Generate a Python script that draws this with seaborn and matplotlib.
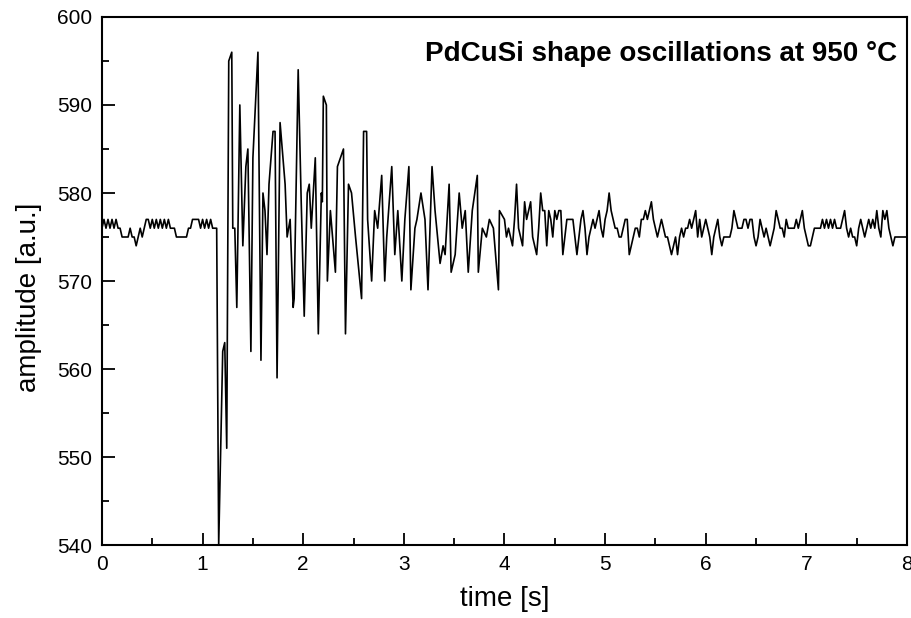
import numpy as np
import pandas as pd
import matplotlib
matplotlib.use("Agg")
import matplotlib.pyplot as plt
from matplotlib.ticker import MultipleLocator
import seaborn as sns

# amplitude before the drop, sampled every 0.02 s from t = 0
pre_amp = [576, 577, 576, 577, 576, 577, 576, 577, 576, 576,
           575, 575, 575, 575, 576, 575, 575, 574, 575, 576,
           575, 576, 577, 577, 576, 577, 576, 577, 576, 577,
           576, 577, 576, 577, 576, 576, 576, 575, 575, 575,
           575, 575, 575, 576, 576, 577, 577, 577, 577, 576,
           577, 576, 577, 576, 577, 576, 576, 576]

# oscillation part (time in s, amplitude in a.u.)
osc_time = [1.16, 1.20, 1.22, 1.24, 1.26, 1.29, 1.30, 1.32, 1.34, 1.37,
            1.40, 1.43, 1.45, 1.48, 1.50, 1.55, 1.58, 1.60, 1.62, 1.64,
            1.66, 1.70, 1.72, 1.74, 1.77, 1.82, 1.84, 1.87, 1.90, 1.91,
            1.95, 1.98, 2.01, 2.04, 2.06, 2.08, 2.12, 2.15, 2.18, 2.19,
            2.20, 2.23, 2.24, 2.27, 2.32, 2.34, 2.40, 2.42, 2.45, 2.48,
            2.52, 2.58, 2.60, 2.63, 2.64, 2.68, 2.71, 2.74, 2.78, 2.81,
            2.83, 2.88, 2.91, 2.94, 2.98, 3.01, 3.05, 3.07, 3.11, 3.13,
            3.17, 3.21, 3.24, 3.28, 3.31, 3.36, 3.39, 3.41, 3.45, 3.47,
            3.51, 3.55, 3.58, 3.61, 3.64, 3.68, 3.73, 3.74, 3.78, 3.82,
            3.85, 3.89, 3.94, 3.95]
osc_amp = [540, 562, 563, 551, 595, 596, 576, 576, 567, 590,
           574, 583, 585, 562, 584, 596, 561, 580, 578, 573,
           581, 587, 587, 559, 588, 581, 575, 577, 567, 568,
           594, 579, 566, 580, 581, 576, 584, 564, 580, 579,
           591, 590, 570, 578, 571, 583, 585, 564, 581, 580,
           575, 568, 587, 587, 577, 570, 578, 576, 582, 570,
           575, 583, 573, 578, 570, 577, 583, 569, 576, 577,
           580, 577, 569, 583, 578, 572, 574, 573, 581, 571,
           573, 580, 576, 578, 571, 578, 582, 571, 576, 575,
           577, 576, 569, 578]

# settled tail, sampled every 0.02 s from t = 4.00 to 8.00
tail_amp = [577, 575, 576, 575, 574, 577, 581, 576, 575, 574,
            579, 577, 578, 579, 575, 574, 573, 576, 580, 578,
            578, 574, 578, 577, 575, 578, 577, 578, 578, 573,
            575, 577, 577, 577, 577, 575, 573, 575, 577, 578,
            576, 573, 575, 576, 577, 576, 577, 578, 576, 575,
            577, 578, 580, 578, 577, 576, 576, 575, 575, 576,
            577, 577, 573, 574, 575, 576, 576, 575, 577, 577,
            578, 577, 578, 579, 577, 576, 575, 576, 577, 576,
            575, 575, 574, 573, 574, 575, 573, 575, 576, 575,
            576, 576, 577, 576, 577, 578, 575, 577, 575, 576,
            577, 576, 575, 573, 575, 576, 577, 575, 574, 575,
            575, 575, 575, 576, 578, 577, 576, 576, 576, 577,
            577, 576, 577, 577, 575, 574, 575, 577, 576, 575,
            576, 575, 574, 575, 576, 578, 577, 576, 576, 575,
            577, 576, 576, 576, 576, 577, 576, 577, 578, 576,
            575, 574, 574, 575, 576, 576, 576, 576, 577, 576,
            577, 576, 577, 576, 577, 576, 576, 576, 577, 578,
            576, 575, 576, 575, 575, 574, 576, 577, 576, 575,
            576, 577, 576, 577, 576, 578, 576, 575, 578, 577,
            578, 576, 575, 574, 575, 575, 575, 575, 575, 575,
            575]

pre_time = np.arange(len(pre_amp)) * 0.02
tail_time = 4.0 + np.arange(len(tail_amp)) * 0.02
df = pd.DataFrame({
    "time": np.concatenate([pre_time, osc_time, tail_time]),
    "amp": np.concatenate([pre_amp, osc_amp, tail_amp]),
})

sns.set_theme(style="ticks")
plt.rcParams["font.family"] = ["Liberation Sans", "DejaVu Sans"]
plt.rcParams["text.color"] = "black"
plt.rcParams["axes.labelcolor"] = "black"

fig = plt.figure(figsize=(9.12, 6.18), dpi=100)
ax = fig.add_axes([0.1118, 0.1181, 0.8827, 0.8544])

sns.lineplot(data=df, x="time", y="amp", color="black", linewidth=1.2,
             estimator=None, sort=False, ax=ax)

ax.set_xlim(0, 8)
ax.set_ylim(540, 600)
ax.xaxis.set_major_locator(MultipleLocator(1))
ax.xaxis.set_minor_locator(MultipleLocator(0.5))
ax.yaxis.set_major_locator(MultipleLocator(10))
ax.yaxis.set_minor_locator(MultipleLocator(5))
ax.tick_params(which="both", direction="in", top=False, right=False,
               labelsize=15, color="black", labelcolor="black", width=1.3)
ax.tick_params(which="major", length=9, pad=7)
ax.tick_params(which="minor", length=5)
for s in ax.spines.values():
    s.set_linewidth(1.5)
    s.set_color("black")

ax.set_xlabel("time [s]", fontsize=20, labelpad=9)
ax.set_ylabel("amplitude [a.u.]", fontsize=20)
ax.yaxis.set_label_coords(-0.074, 0.47)
ax.text(0.988, 0.93, "PdCuSi shape oscillations at 950 \u00b0C",
        transform=ax.transAxes, ha="right", va="center",
        fontsize=20, fontweight="bold")

fig.savefig("out.png", dpi=100)
